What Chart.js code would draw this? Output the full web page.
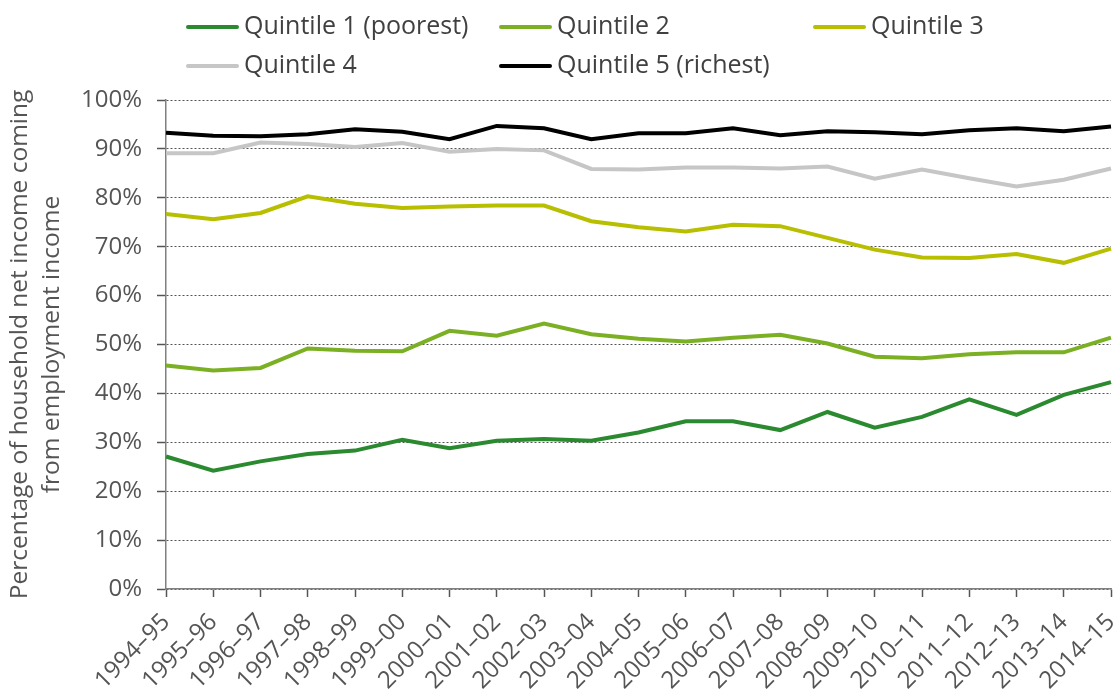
<!DOCTYPE html>
<html>
<head>
<meta charset="utf-8">
<script src="https://cdn.jsdelivr.net/npm/chart.js@4/dist/chart.umd.min.js"></script>
<style>
  body { margin: 0; background: #fff; }
  #wrap { position: relative; width: 1116px; height: 693px; }
  #legend { position: absolute; left: 0; top: 0; font-family: "Open Sans", sans-serif; font-size: 25px; color: #404040; }
  .item { position: absolute; white-space: nowrap; line-height: 30px; }
  .item span.swatch { display: inline-block; width: 53px; height: 4px; border-radius: 2px; vertical-align: middle; margin-right: 5px; }
</style>
</head>
<body>
<div id="wrap">
  <canvas id="chart" width="1116" height="693"></canvas>
  <div id="legend"></div>
</div>
<script>
const years = ['1994–95','1995–96','1996–97','1997–98','1998–99','1999–00','2000–01','2001–02','2002–03','2003–04','2004–05','2005–06','2006–07','2007–08','2008–09','2009–10','2010–11','2011–12','2012–13','2013–14','2014–15'];

const quintile1 = [27.1, 24.2, 26.1, 27.6, 28.3, 30.5, 28.8, 30.3, 30.7, 30.3, 32.0, 34.3, 34.3, 32.5, 36.2, 33.0, 35.2, 38.8, 35.6, 39.7, 42.3];
const quintile2 = [45.7, 44.7, 45.2, 49.2, 48.7, 48.6, 52.8, 51.8, 54.3, 52.1, 51.2, 50.6, 51.4, 52.0, 50.2, 47.5, 47.2, 48.0, 48.4, 48.4, 51.4];
const quintile3 = [76.7, 75.6, 76.9, 80.3, 78.8, 77.9, 78.2, 78.4, 78.4, 75.2, 74.0, 73.1, 74.5, 74.2, 71.8, 69.4, 67.8, 67.7, 68.5, 66.7, 69.6];
const quintile4 = [89.1, 89.1, 91.3, 91.0, 90.4, 91.2, 89.4, 90.0, 89.7, 85.9, 85.8, 86.2, 86.2, 86.0, 86.4, 83.9, 85.8, 84.0, 82.3, 83.7, 86.0];
const quintile5 = [93.3, 92.7, 92.6, 93.0, 94.0, 93.5, 92.0, 94.7, 94.2, 92.0, 93.2, 93.2, 94.2, 92.8, 93.6, 93.4, 93.0, 93.8, 94.2, 93.6, 94.6];

const seriesNames = ['Quintile 1 (poorest)', 'Quintile 2', 'Quintile 3', 'Quintile 4', 'Quintile 5 (richest)'];
const seriesColors = ['#2b8a30', '#7bb025', '#b7bf00', '#c6c6c6', '#000000'];
const yTicks = [0, 10, 20, 30, 40, 50, 60, 70, 80, 90, 100];

const allSeries = [quintile1, quintile2, quintile3, quintile4, quintile5];

// legend laid out as a 3-column grid like the original
const legendSpots = [[186, 9], [499, 9], [813, 9], [186, 48], [499, 48]];
const legendBox = document.getElementById('legend');
seriesNames.forEach((name, i) => {
    const el = document.createElement('div');
    el.className = 'item';
    el.style.left = legendSpots[i][0] + 'px';
    el.style.top = legendSpots[i][1] + 'px';
    el.innerHTML = '<span class="swatch" style="background:' + seriesColors[i] + '"></span>' + name;
    legendBox.appendChild(el);
});

const font = { family: '"Open Sans", sans-serif', size: 24 };

var ctx = document.getElementById('chart').getContext('2d');
var myChart = new Chart(ctx, {
    type: 'line',
    data: {
        labels: years,
        datasets: allSeries.map((vals, i) => ({
            label: seriesNames[i],
            data: vals,
            borderColor: seriesColors[i],
            backgroundColor: seriesColors[i],
            borderWidth: 4,
            pointRadius: 0,
            tension: 0,
            fill: false
        }))
    },
    options: {
        responsive: false,
        animation: false,
        layout: { padding: { top: 100, right: 5, left: 0, bottom: 0 } },
        plugins: {
            legend: { display: false },
            tooltip: { enabled: false }
        },
        scales: {
            x: {
                offset: false,
                afterFit: function(scale) {
                    scale.height = 104;
                    scale.paddingRight = 5;
                },
                grid: {
                    drawOnChartArea: false,
                    drawTicks: true,
                    tickLength: 8,
                    tickColor: '#555',
                    tickWidth: 1.5
                },
                border: { color: '#808080', width: 1.5 },
                ticks: {
                    autoSkip: false,
                    maxRotation: 45,
                    minRotation: 45,
                    padding: 11,
                    color: '#555',
                    font: font
                }
            },
            y: {
                min: 0,
                max: 100,
                afterFit: function(scale) { scale.width = 166; },
                afterBuildTicks: function(scale) {
                    scale.ticks = yTicks.map(v => ({ value: v }));
                },
                grid: {
                    color: '#555',
                    lineWidth: 1,
                    tickLength: 9,
                    tickColor: '#555',
                    tickWidth: 1.5
                },
                border: { color: '#808080', width: 1.5, dash: [2, 2] },
                ticks: {
                    color: '#555',
                    font: font,
                    padding: 15,
                    callback: v => v + '%'
                },
                title: {
                    display: true,
                    text: ['Percentage of household net income coming', 'from employment income'],
                    color: '#555',
                    font: { family: '"Open Sans", sans-serif', size: 24.5, lineHeight: 1.3 },
                    padding: { top: 4, bottom: 0 }
                }
            }
        }
    }
});
</script>
</body>
</html>
